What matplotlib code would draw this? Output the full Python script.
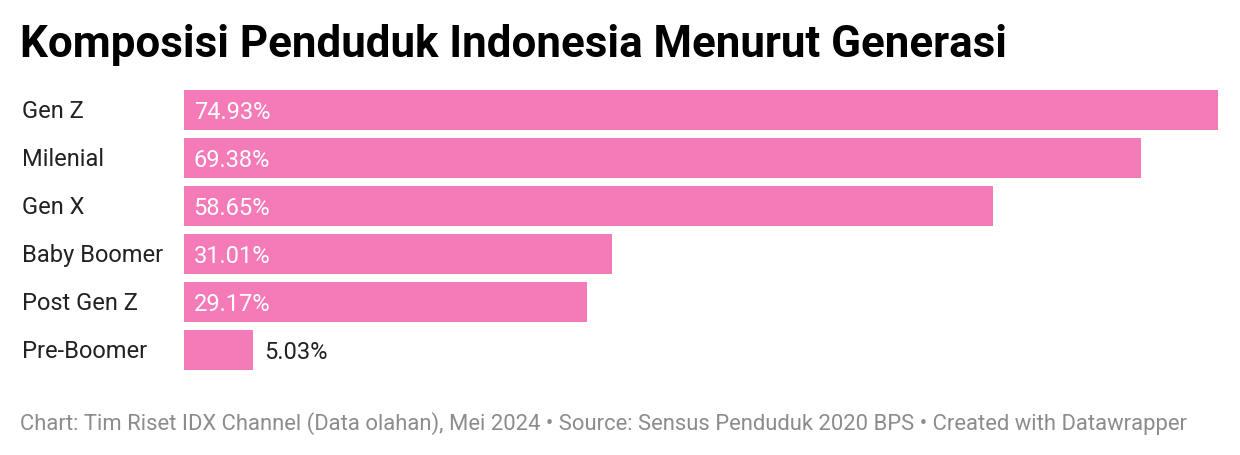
import matplotlib.pyplot as plt

plt.rcParams['font.family'] = ['Roboto', 'DejaVu Sans']

# data
generations = ['Gen Z', 'Milenial', 'Gen X', 'Baby Boomer', 'Post Gen Z', 'Pre-Boomer']
shares = [74.93, 69.38, 58.65, 31.01, 29.17, 5.03]

bar_color = '#f57ab8'

fig = plt.figure(figsize=(12.4, 4.56), dpi=100)
ax = fig.add_axes([184 / 1240, 1 - 371 / 456, (1218 - 184) / 1240, 280 / 456])

ypos = list(range(len(generations)))
ax.barh(ypos, shares, height=40 / 48, color=bar_color)
ax.set_xlim(0, max(shares))
ax.set_ylim(len(generations) - 0.5 - 4 / 48, -0.5 + 4 / 48)
ax.axis('off')

# value labels: inside the bar if wide enough, outside otherwise
for y, v in zip(ypos, shares):
    txt = f'{v:.2f}%'
    if v > 10:
        ax.text(0.7, y + 0.03, txt, color='white', fontsize=17, va='center', ha='left')
    else:
        ax.text(v + 0.75, y + 0.03, txt, color='#222222', fontsize=17, va='center', ha='left')

# category labels on the left
for y, name in zip(ypos, generations):
    fig.text(22 / 1240, (1 - (92 + 20 + 48 * y) / 456), name, fontsize=17,
             color='#222222', va='center', ha='left')

fig.text(20 / 1240, 1 - 45 / 456, 'Komposisi Penduduk Indonesia Menurut Generasi',
         fontsize=31.6, fontweight='bold', color='black', va='center', ha='left')

fig.text(20 / 1240, 1 - 424 / 456,
         'Chart: Tim Riset IDX Channel (Data olahan), Mei 2024 \u2022 Source: Sensus Penduduk 2020 BPS \u2022 Created with Datawrapper',
         fontsize=15.8, color='#8c8c8c', va='center', ha='left')

plt.savefig('out.png', dpi=100)
